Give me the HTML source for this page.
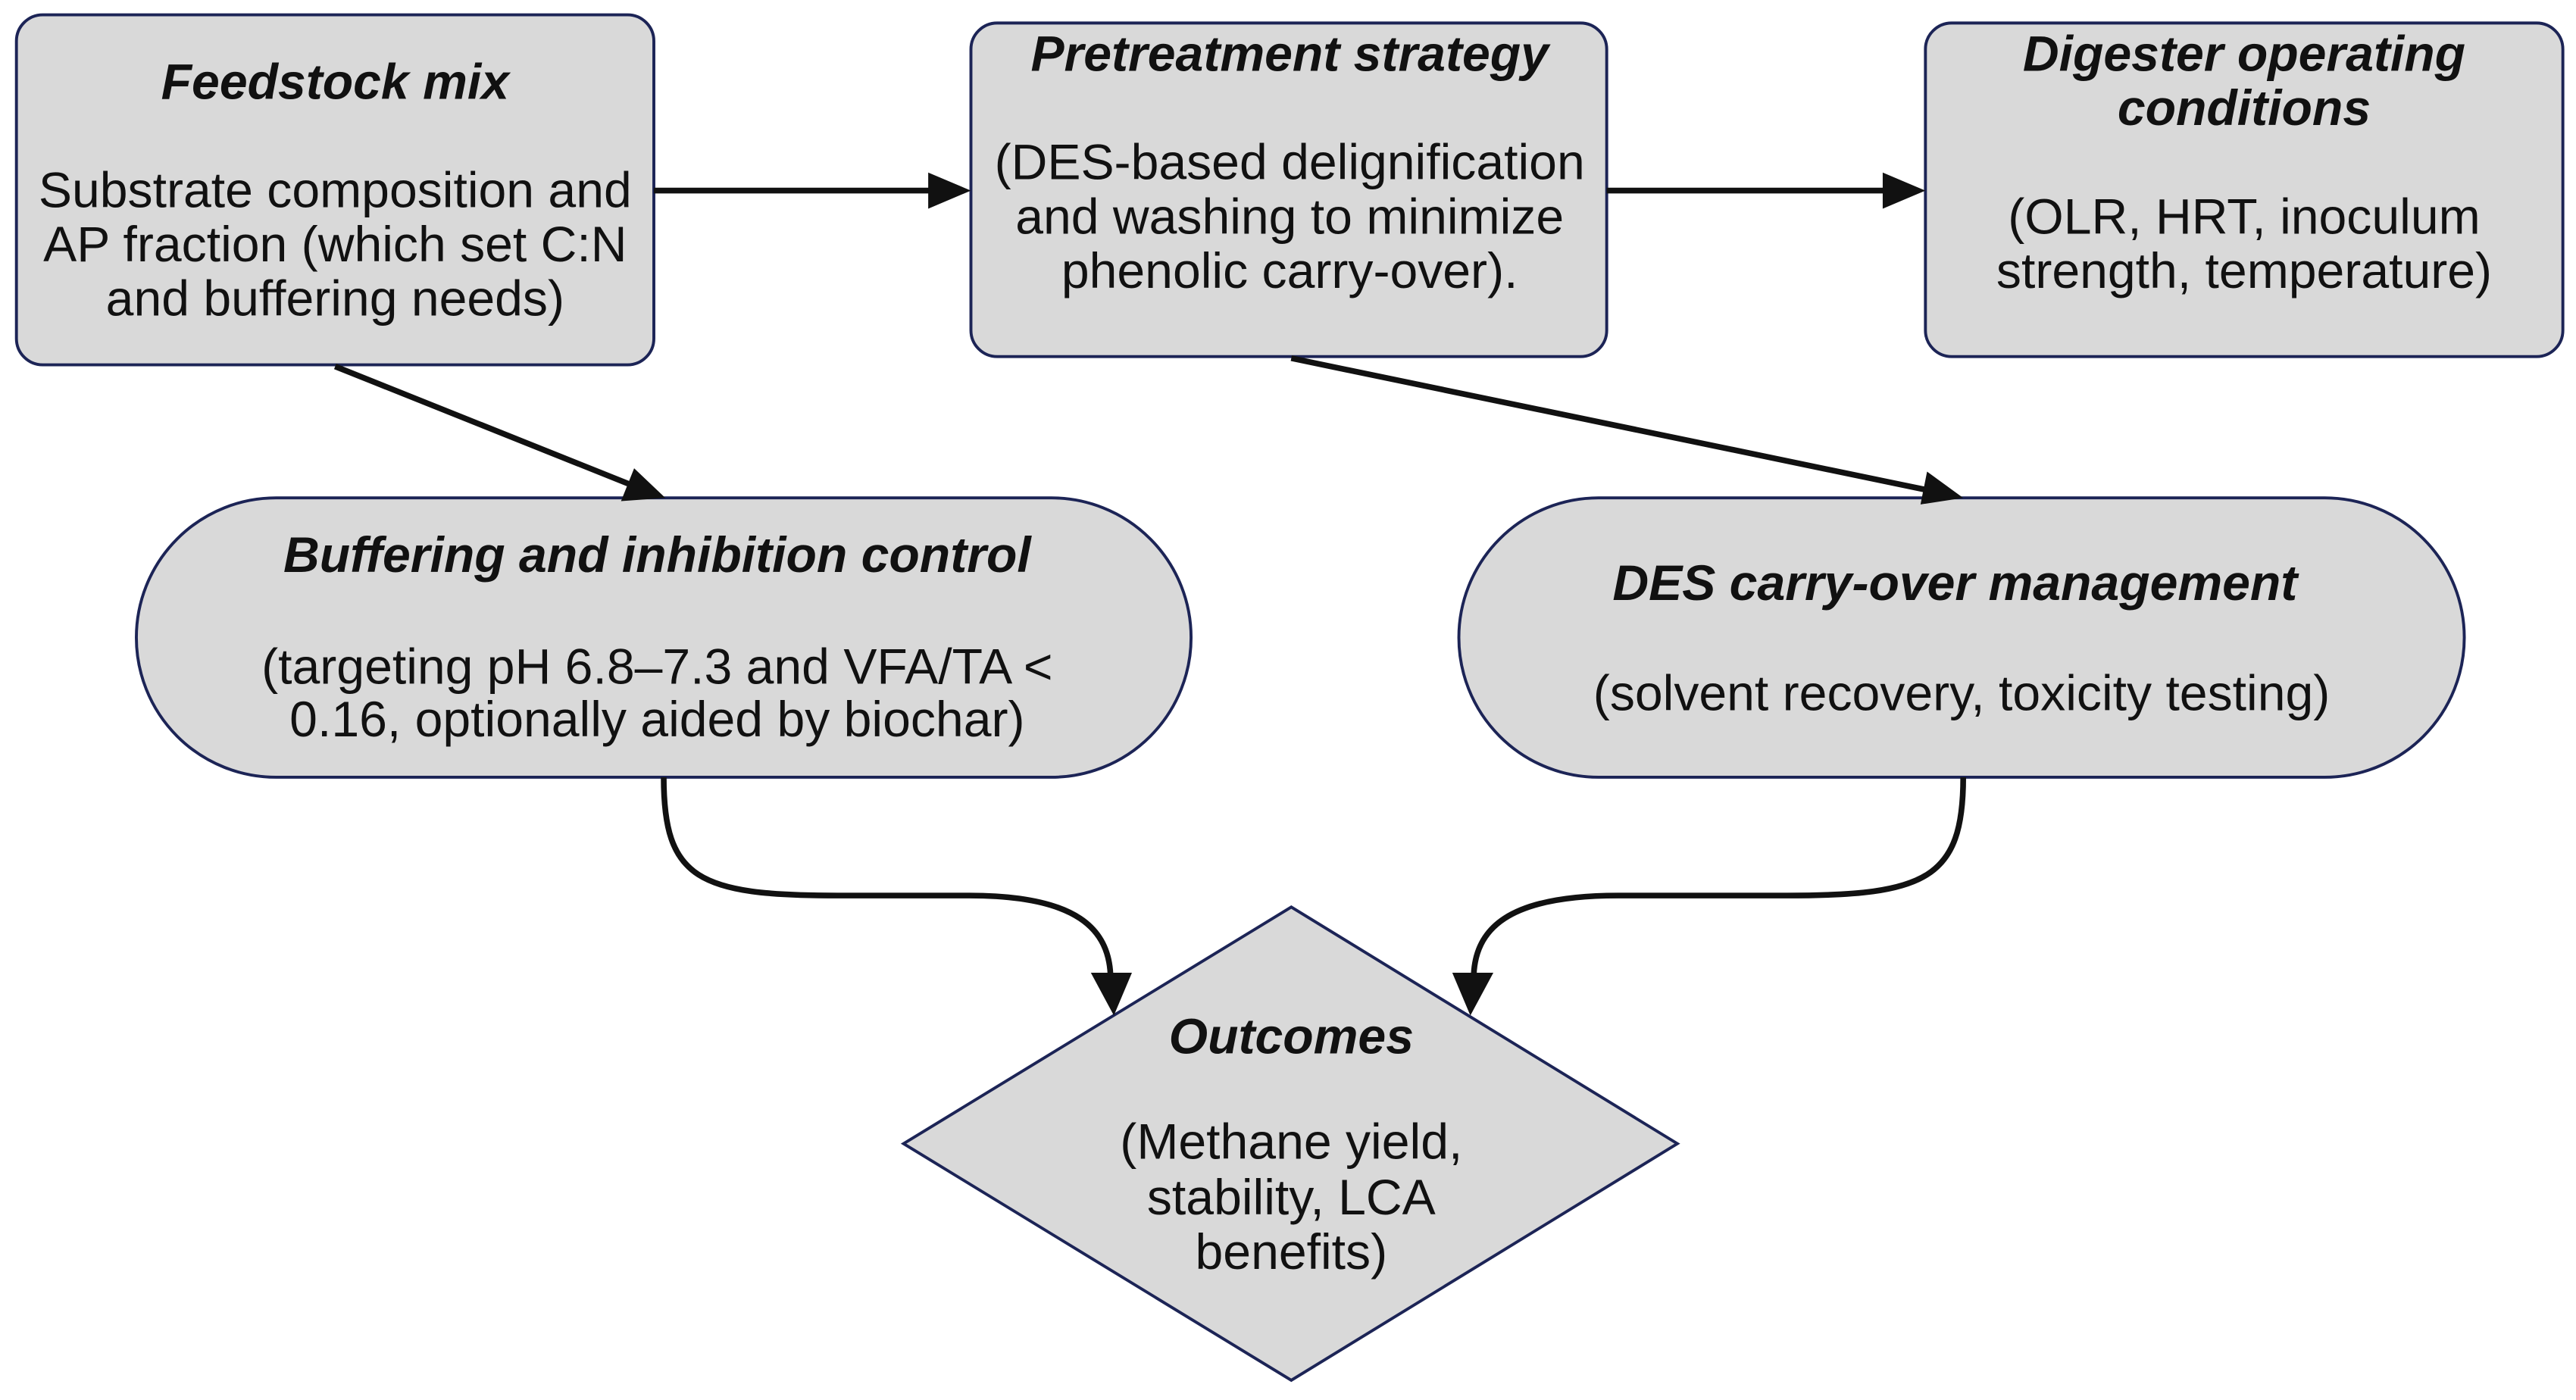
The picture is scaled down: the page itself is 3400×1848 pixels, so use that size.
<!DOCTYPE html>
<html><head><meta charset="utf-8"><style>
html,body{margin:0;padding:0;background:#fff;}
svg{display:block;}
text{font-family:"Liberation Sans",Arial,sans-serif;fill:#111;text-anchor:middle;dominant-baseline:central;}
.t{font-weight:bold;font-style:italic;font-size:30.5px;}
.b{font-size:30.5px;}
</style></head><body>
<svg width="3400" height="1848" viewBox="0 0 1568 852" preserveAspectRatio="none" xmlns="http://www.w3.org/2000/svg">
<g fill="#d9d9d9" stroke="#1c2456" stroke-width="1.8">
<rect x="10" y="9" width="388" height="213" rx="16"/>
<rect x="591" y="14" width="387" height="203" rx="16"/>
<rect x="1172" y="14" width="388" height="203" rx="16"/>
<rect x="83" y="303" width="642" height="170" rx="85"/>
<rect x="888" y="303" width="612" height="170" rx="85"/>
<polygon points="786,552 1021,696 786,840 550,696"/>
</g>
<g stroke="#111" stroke-width="3.5" fill="none">
<line x1="398" y1="116" x2="568" y2="116"/>
<line x1="978" y1="116" x2="1148" y2="116"/>
<line x1="204" y1="223" x2="384" y2="295"/>
<line x1="786" y1="218" x2="1172" y2="298"/>
<path d="M404,473 C404,535 425,545 510,545 L590,545 C655,545 676,565 676,596"/>
<path d="M1195,473 C1195,535 1172,545 1088,545 L985,545 C918,545 897,565 897,596"/>
</g>
<g fill="#111">
<polygon points="591,116 565,105 565,127"/>
<polygon points="1172,116 1146,105 1146,127"/>
<polygon points="405,303 378,305 386,285"/>
<polygon points="1195,303 1169,307 1173,287"/>
<polygon points="678,618 664,592 689,592"/>
<polygon points="895,618 884,592 909,592"/>
</g>
<text class="t" x="204" y="50">Feedstock mix</text>
<text class="b" x="204" y="116">Substrate composition and</text>
<text class="b" x="204" y="149">AP fraction (which set C:N</text>
<text class="b" x="204" y="182">and buffering needs)</text>
<text class="t" x="785" y="33">Pretreatment strategy</text>
<text class="b" x="785" y="99">(DES-based delignification</text>
<text class="b" x="785" y="132">and washing to minimize</text>
<text class="b" x="785" y="165">phenolic carry-over).</text>
<text class="t" x="1366" y="33">Digester operating</text>
<text class="t" x="1366" y="66">conditions</text>
<text class="b" x="1366" y="132">(OLR, HRT, inoculum</text>
<text class="b" x="1366" y="165">strength, temperature)</text>
<text class="t" x="400" y="338">Buffering and inhibition control</text>
<text class="b" x="400" y="406">(targeting pH 6.8–7.3 and VFA/TA &lt;</text>
<text class="b" x="400" y="438">0.16, optionally aided by biochar)</text>
<text class="t" x="1190" y="355">DES carry-over management</text>
<text class="b" x="1194" y="422">(solvent recovery, toxicity testing)</text>
<text class="t" x="786" y="631">Outcomes</text>
<text class="b" x="786" y="695">(Methane yield,</text>
<text class="b" x="786" y="729">stability, LCA</text>
<text class="b" x="786" y="762">benefits)</text>
</svg>
</body></html>
